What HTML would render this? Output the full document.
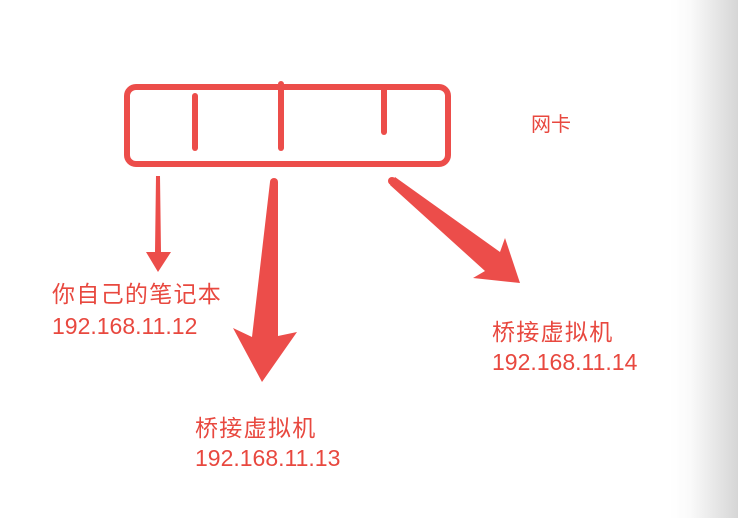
<!DOCTYPE html>
<html><head><meta charset="utf-8"><style>
html,body{margin:0;padding:0}
body{width:738px;height:518px;position:relative;overflow:hidden;background:linear-gradient(to right,#fff 0,#fff 670px,#fafafa 690px,#d6d6d6 738px);font-family:"Liberation Sans","Noto Sans CJK SC",sans-serif;color:#e8483f}
.t{position:absolute;font-size:23px;line-height:30px;white-space:nowrap}
.c{letter-spacing:1.3px}
</style></head><body>
<svg width="738" height="518" style="position:absolute;left:0;top:0">
<g fill="none" stroke="#ec4d4a" stroke-width="6" stroke-linecap="round">
<rect x="127" y="87" width="321" height="77" rx="9"/>
<line x1="195" y1="96" x2="195" y2="148"/>
<line x1="281" y1="84" x2="281" y2="148"/>
<line x1="384" y1="89" x2="384" y2="132"/>
</g>
<g fill="#ec4d4a">
<polygon points="156,176 160,176 161,252 171,252 158,272 146,252 155,252"/>
<polygon points="270,182 278,182 278,336 297,332 262,382 233,328 252,337"/>
<polygon points="395,177 500,252 505,238 520,283 473,278 485,271 390,185"/>
<circle cx="274" cy="182" r="4"/>
<circle cx="392" cy="181" r="4"/>
</g>
</svg>
<div class="t" style="left:531px;top:110px;font-size:20px">网卡</div>
<div class="t c" style="left:52px;top:279px">你自己的笔记本</div>
<div class="t" style="left:52px;top:311px">192.168.11.12</div>
<div class="t c" style="left:492px;top:317px">桥接虚拟机</div>
<div class="t" style="left:492px;top:347px">192.168.11.14</div>
<div class="t c" style="left:195px;top:413px">桥接虚拟机</div>
<div class="t" style="left:195px;top:443px">192.168.11.13</div>
</body></html>
